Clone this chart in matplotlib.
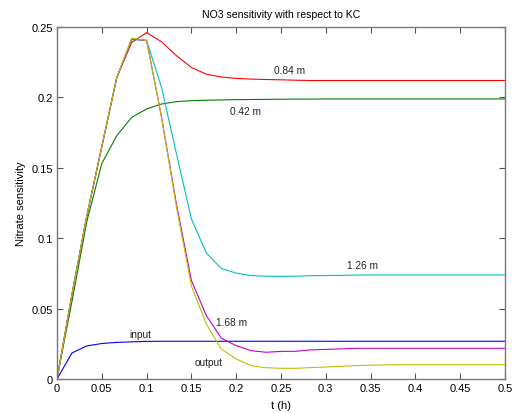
import numpy as np
import matplotlib
matplotlib.use("Agg")
import matplotlib.pyplot as plt

plt.rcParams['font.family'] = ['Liberation Sans', 'DejaVu Sans']

# time grid (h), 1-minute steps
t = [i / 60 for i in range(31)]

input_ = [0, 0.0185, 0.0235, 0.0252, 0.026, 0.0264, 0.0267, 0.0268, 0.0268, 0.0268,
          0.0268, 0.0268, 0.0268, 0.0268, 0.0268, 0.0268, 0.0268, 0.0268, 0.0268, 0.0268,
          0.0268, 0.0268, 0.0268, 0.0268, 0.0268, 0.0268, 0.0268, 0.0268, 0.0268, 0.0268, 0.0268]
m042 = [0, 0.055, 0.112, 0.153, 0.1728, 0.1858, 0.1918, 0.1953, 0.197, 0.1977,
        0.198, 0.1982, 0.1984, 0.1985, 0.1986, 0.1987, 0.1988, 0.1988, 0.1989, 0.1989,
        0.1989, 0.1989, 0.1989, 0.1989, 0.1989, 0.1989, 0.1989, 0.1989, 0.1989, 0.1989, 0.1989]
m084 = [0, 0.06, 0.116, 0.165, 0.214, 0.239, 0.246, 0.2395, 0.2296, 0.2213,
        0.2165, 0.2145, 0.2135, 0.213, 0.2127, 0.2125, 0.2122, 0.212, 0.212, 0.212,
        0.212, 0.212, 0.212, 0.212, 0.212, 0.212, 0.212, 0.212, 0.212, 0.212, 0.212]
m126 = [0, 0.06, 0.116, 0.165, 0.214, 0.241, 0.2405, 0.207, 0.160, 0.1136,
        0.0895, 0.0785, 0.0752, 0.0735, 0.073, 0.0729, 0.073, 0.0734, 0.0735, 0.0736,
        0.0738, 0.0739, 0.0739, 0.0739, 0.0739, 0.0739, 0.0739, 0.0739, 0.0739, 0.0739, 0.0739]
m168 = [0, 0.06, 0.116, 0.165, 0.214, 0.2415, 0.2405, 0.186, 0.124, 0.070,
        0.045, 0.029, 0.0237, 0.0201, 0.019, 0.0196, 0.0197, 0.0207, 0.021, 0.0214,
        0.0218, 0.0218, 0.0218, 0.0218, 0.0218, 0.0218, 0.0218, 0.0218, 0.0218, 0.0218, 0.0218]
output = [0, 0.06, 0.116, 0.165, 0.214, 0.242, 0.2405, 0.186, 0.122, 0.066,
          0.039, 0.0213, 0.0142, 0.0095, 0.008, 0.0076, 0.0076, 0.0081, 0.0085, 0.009,
          0.0095, 0.0098, 0.01, 0.0102, 0.0102, 0.0102, 0.0102, 0.0102, 0.0102, 0.0102, 0.0102]

labels = ["input", "0.42 m", "0.84 m", "1.26 m", "1.68 m", "output"]
label_pos = [(0.0804, 0.0322), (0.193, 0.1906), (0.242, 0.2195),
             (0.3233, 0.081), (0.178, 0.0407), (0.154, 0.0123)]

colors = ["#0000ff", "#008000", "#ff0000", "#00bfbf", "#bf00bf", "#bfbf00"]
series = [input_, m042, m084, m126, m168, output]

fig = plt.figure(figsize=(5.12, 4.14), dpi=100)
ax = fig.add_axes([57/512, 34/414, 448/512, 352/414])

for y, c in zip(series, colors):
    ax.plot(t, y, color=c, lw=0.8)

for lab, (x, y) in zip(labels, label_pos):
    ax.text(x, y, lab, fontsize=7.3, ha='left', va='center', color='#222222')

ax.set_xlim(0, 0.5)
ax.set_ylim(0, 0.25)
ax.set_xticks(np.arange(0, 0.501, 0.05))
ax.set_xticklabels(["0", "0.05", "0.1", "0.15", "0.2", "0.25", "0.3", "0.35", "0.4", "0.45", "0.5"])
ax.set_yticks([0, 0.05, 0.1, 0.15, 0.2, 0.25])
ax.set_yticklabels(["0", "0.05", "0.1", "0.15", "0.2", "0.25"])
ax.tick_params(direction='in', top=True, right=True, length=4, width=0.8,
               color='#555555', labelsize=8, pad=3)
for s in ax.spines.values():
    s.set_color('#777777')
    s.set_linewidth(1.0)

ax.set_title("NO3 sensitivity with respect to KC", fontsize=7.6, pad=7)
ax.set_xlabel("t (h)", fontsize=8, labelpad=5)
ax.set_ylabel("Nitrate sensitivity", fontsize=8, labelpad=4)

fig.savefig("out.png", dpi=100)
